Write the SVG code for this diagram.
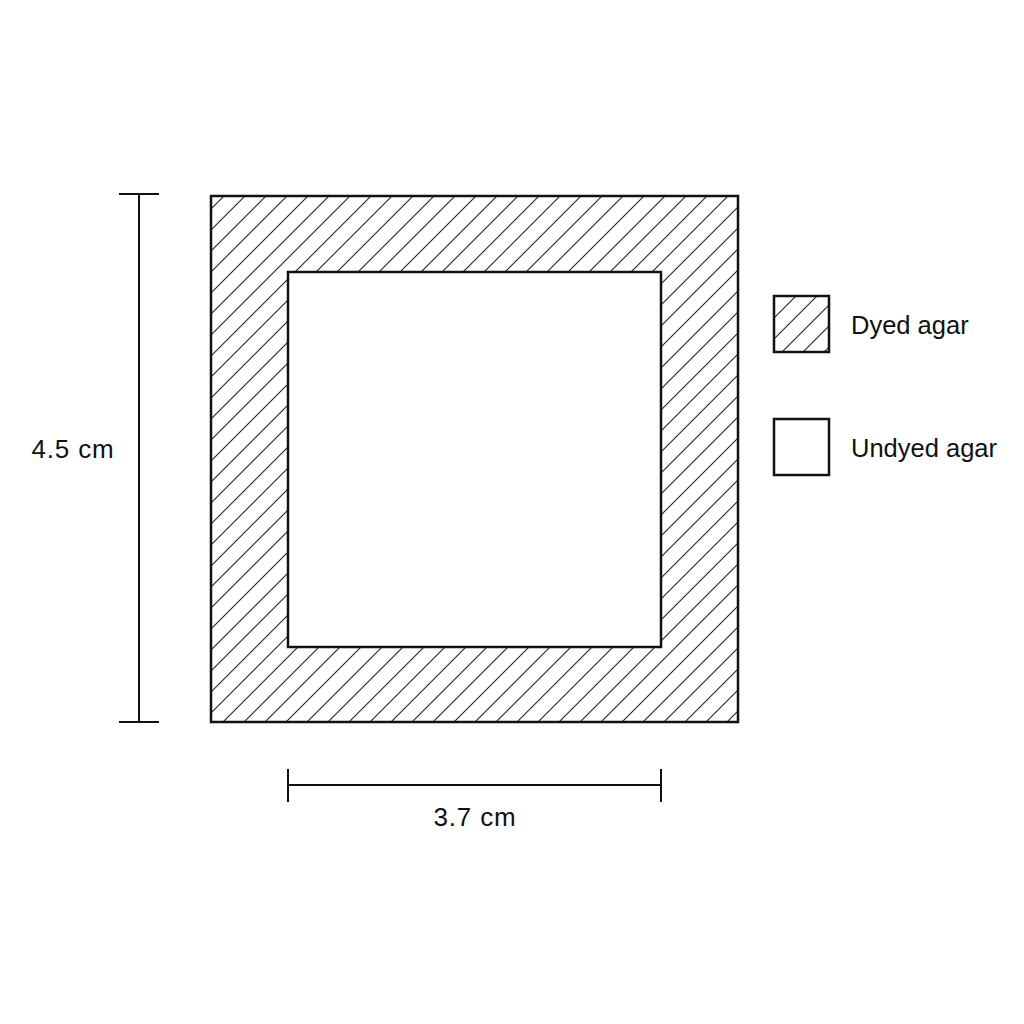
<svg xmlns="http://www.w3.org/2000/svg" width="1024" height="1024" viewBox="0 0 1024 1024">
<style>
.frame{stroke:#111;stroke-width:2.5;}
.dim{stroke:#111;stroke-width:2;fill:none;}
.lbl{font-family:"Liberation Sans",Arial,sans-serif;font-size:25.5px;fill:#111;}
.dl{font-size:26px;letter-spacing:0.8px;}
</style>
<defs>
<pattern id="hatch" patternUnits="userSpaceOnUse" width="21" height="21">
<path d="M0,21 L21,0 M-5,5 L5,-5 M16,26 L26,16" stroke="#222" stroke-width="1.1"/>
</pattern>
</defs>
<rect width="1024" height="1024" fill="#fff"/>
<g id="dyed-agar">
<path d="M211,196 H738 V722 H211 Z M288,272 V647 H661 V272 Z" fill="url(#hatch)" fill-rule="evenodd"/>
<rect x="211" y="196" width="527" height="526" fill="none" class="frame"/>
</g>
<g id="undyed-agar">
<rect x="288" y="272" width="373" height="375" fill="#fff" class="frame"/>
</g>
<g id="connectors">
<path class="dim" d="M139,194 V722 M119,194 H159 M119,722 H159"/>
<path class="dim" d="M288,785 H661 M288,769 V802 M661,769 V802"/>
</g>
<g id="dim-labels">
<text class="lbl dl" x="73" y="458" text-anchor="middle">4.5 cm</text>
<text class="lbl dl" x="475" y="826" text-anchor="middle">3.7 cm</text>
</g>
<g id="legend-dyed">
<rect x="774" y="296" width="55" height="56" fill="url(#hatch)" class="frame"/>
<text class="lbl" x="851" y="334">Dyed agar</text>
</g>
<g id="legend-undyed">
<rect x="774" y="419" width="55" height="56" fill="#fff" class="frame"/>
<text class="lbl" x="851" y="457">Undyed agar</text>
</g>
</svg>
